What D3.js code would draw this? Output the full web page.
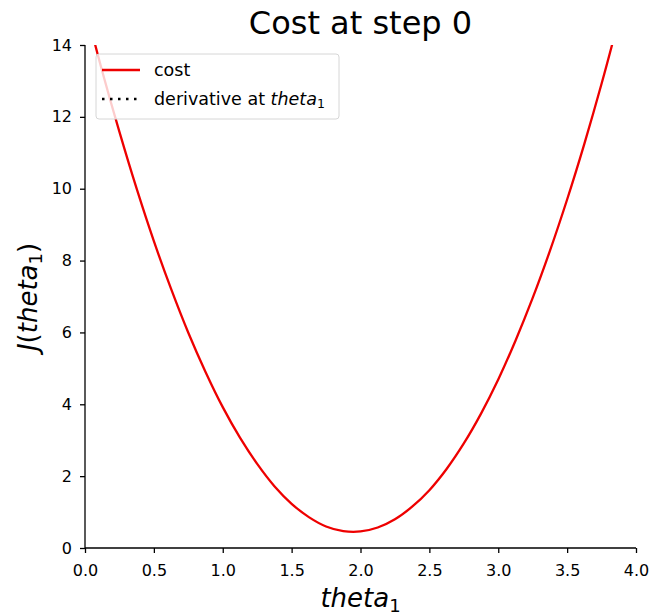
<!DOCTYPE html>
<html>
<head>
<meta charset="utf-8">
<script src="https://cdn.jsdelivr.net/npm/d3@7"></script>
<style>
  body { margin: 0; background: #fff; }
  text { font-family: "DejaVu Sans", sans-serif; }
</style>
</head>
<body>
<svg id="chart" width="656" height="616"></svg>
<script>
const theta = [0.0, 0.125, 0.25, 0.375, 0.5, 0.625, 0.75, 0.875, 1.0, 1.125, 1.25, 1.375, 1.5, 1.625, 1.75, 1.875,
               2.0, 2.125, 2.25, 2.375, 2.5, 2.625, 2.75, 2.875, 3.0, 3.125, 3.25, 3.375, 3.5, 3.625, 3.75, 3.875, 4.0];
const cost  = [15.1, 13.27, 11.58, 10.00, 8.54, 7.21, 5.99, 4.90, 3.92, 3.07, 2.34, 1.72, 1.23, 0.86, 0.60, 0.47,
               0.46, 0.57, 0.80, 1.15, 1.61, 2.20, 2.91, 3.74, 4.69, 5.77, 6.96, 8.27, 9.70, 11.25, 12.92, 14.72, 16.63];
const xTicks = [0, 0.5, 1.0, 1.5, 2.0, 2.5, 3.0, 3.5, 4.0];
const yTicks = [0, 2, 4, 6, 8, 10, 12, 14];
const legendLabels = ["cost", "derivative at "];

const svg = d3.select("#chart");
const m = {left: 85, right: 636, top: 45, bottom: 548};

const x = d3.scaleLinear().domain([0, 4]).range([m.left, m.right]);
const y = d3.scaleLinear().domain([0, 14]).range([m.bottom, m.top]);

svg.append("defs").append("clipPath").attr("id", "clip")
  .append("rect").attr("x", m.left).attr("y", m.top)
  .attr("width", m.right - m.left).attr("height", m.bottom - m.top);

// curve
const line = d3.line().x((d, i) => x(theta[i])).y(d => y(d)).curve(d3.curveCatmullRom);
svg.append("path").datum(cost)
  .attr("clip-path", "url(#clip)")
  .attr("d", line)
  .attr("fill", "none").attr("stroke", "#ee0000").attr("stroke-width", 2.3);

// axes
const xAxis = d3.axisBottom(x).tickValues(xTicks).tickFormat(d3.format(".1f")).tickSize(5).tickPadding(12);
const yAxis = d3.axisLeft(y).tickValues(yTicks).tickFormat(d3.format("d")).tickSize(5).tickPadding(8);

const gx = svg.append("g").attr("transform", `translate(0,${m.bottom})`).call(xAxis);
const gy = svg.append("g").attr("transform", `translate(${m.left},0)`).call(yAxis);
[gx, gy].forEach(g => {
  g.selectAll("path.domain").attr("stroke", "#000").attr("stroke-width", 1.3);
  g.selectAll(".tick line").attr("stroke", "#000").attr("stroke-width", 1.3);
  g.selectAll(".tick text").attr("font-size", 16).attr("fill", "#000")
    .attr("font-family", "DejaVu Sans, sans-serif");
});
gx.select("path.domain").attr("d", `M${m.left},0H${m.right}`);
gy.select("path.domain").attr("d", `M0,${m.bottom}V${m.top}`);

// title
svg.append("text").attr("x", (m.left + m.right) / 2).attr("y", 34)
  .attr("text-anchor", "middle").attr("font-size", 32).text("Cost at step 0");

// x label
const xl = svg.append("text").attr("x", (m.left + m.right) / 2).attr("y", 607)
  .attr("text-anchor", "middle").attr("font-size", 26);
xl.append("tspan").attr("font-style", "italic").text("theta");
xl.append("tspan").attr("font-size", 18).attr("dy", 5).text("1");

// y label
const yl = svg.append("text").attr("transform", "translate(37,297) rotate(-90)")
  .attr("text-anchor", "middle").attr("font-size", 26);
yl.append("tspan").attr("font-style", "italic").text("J");
yl.append("tspan").text("(");
yl.append("tspan").attr("font-style", "italic").text("theta");
yl.append("tspan").attr("font-size", 18).attr("dy", 5).text("1");
yl.append("tspan").attr("dy", -5).text(")");

// legend
const lg = svg.append("g");
lg.append("rect").attr("x", 96).attr("y", 54).attr("width", 243).attr("height", 65)
  .attr("rx", 3).attr("fill", "#fff").attr("fill-opacity", 0.8)
  .attr("stroke", "#d6d6d6").attr("stroke-width", 1);
lg.append("line").attr("x1", 102).attr("x2", 140).attr("y1", 70).attr("y2", 70)
  .attr("stroke", "#ee0000").attr("stroke-width", 2.3);
lg.append("line").attr("x1", 102).attr("x2", 140).attr("y1", 99).attr("y2", 99)
  .attr("stroke", "#000").attr("stroke-width", 2.3).attr("stroke-dasharray", "2.5,5.5");
lg.append("text").attr("x", 154).attr("y", 76).attr("font-size", 17.5).text(legendLabels[0]);
const l2 = lg.append("text").attr("x", 154).attr("y", 105).attr("font-size", 17.5);
l2.append("tspan").text(legendLabels[1]);
l2.append("tspan").attr("font-style", "italic").text("theta");
l2.append("tspan").attr("font-size", 12.5).attr("dy", 3).text("1");
</script>
</body>
</html>
